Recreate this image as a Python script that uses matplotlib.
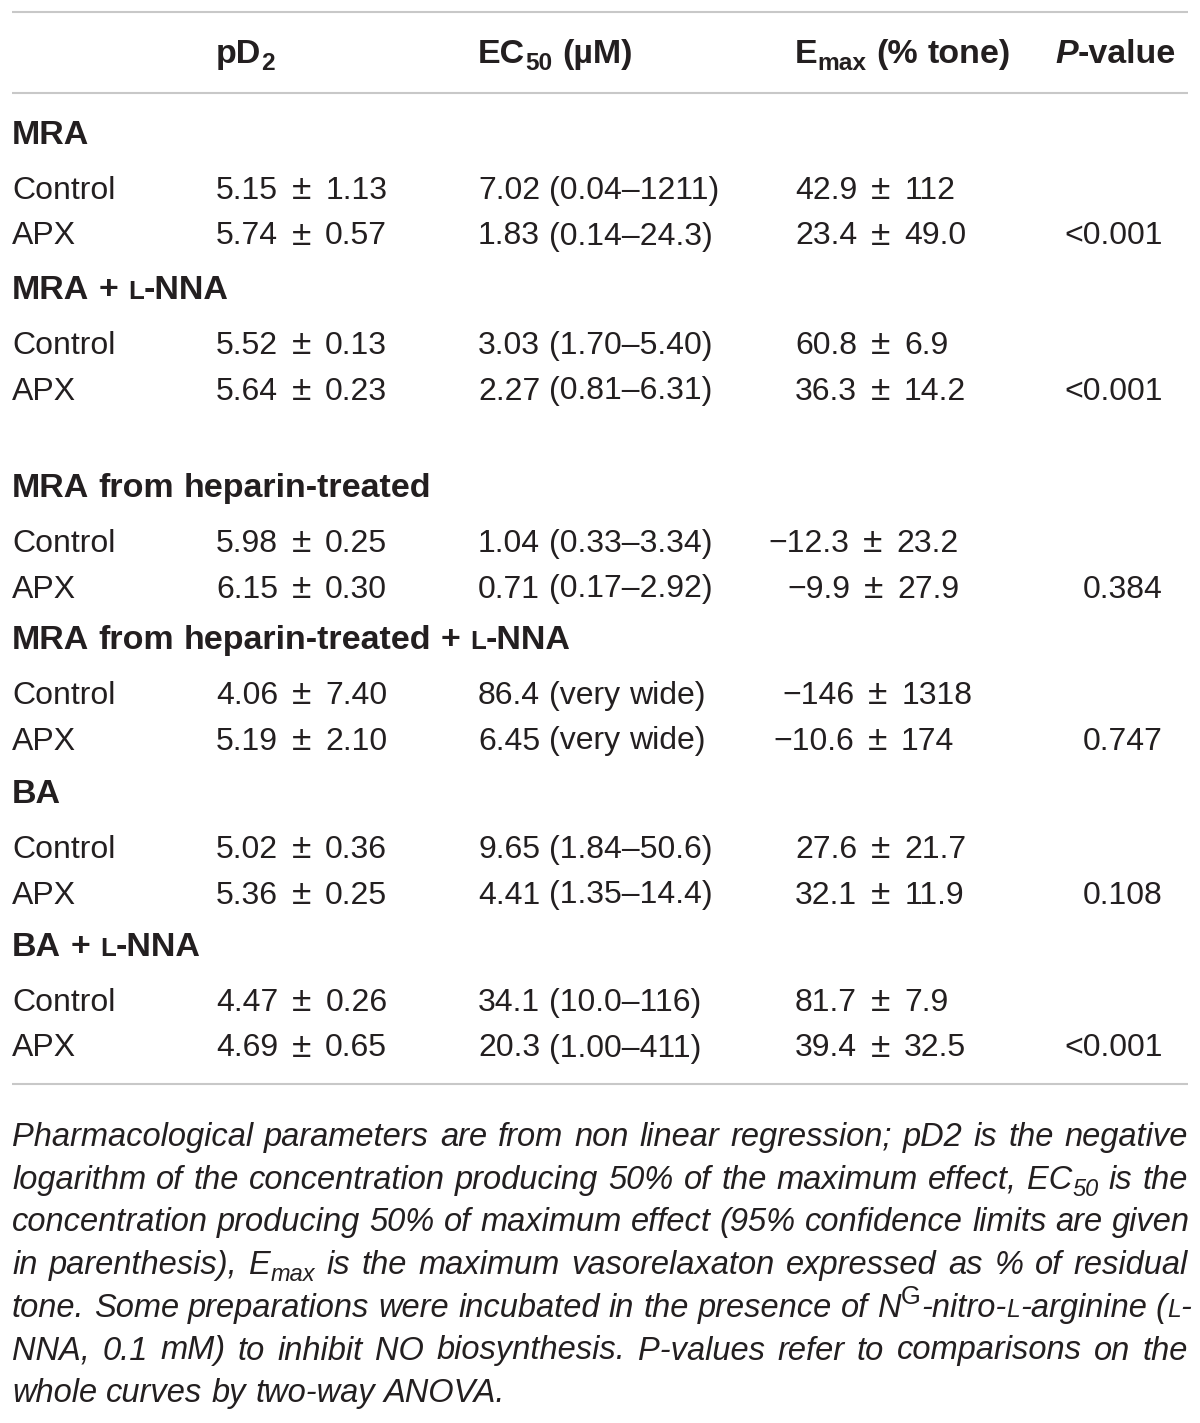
import re
import matplotlib
matplotlib.use('Agg')
import matplotlib.pyplot as plt

# ---------------- data ----------------
headers = ["pD_{2}", "EC_{50} (µM)", "E_{max} (% tone)", "*{P}-value"]
groups = ["MRA", "MRA + ~{L}-NNA", "MRA from heparin-treated",
          "MRA from heparin-treated + ~{L}-NNA", "BA", "BA + ~{L}-NNA"]
row_labels = ["Control", "APX"]
pd2 = ["5.15 ± 1.13", "5.74 ± 0.57",
       "5.52 ± 0.13", "5.64 ± 0.23",
       "5.98 ± 0.25", "6.15 ± 0.30",
       "4.06 ± 7.40", "5.19 ± 2.10",
       "5.02 ± 0.36", "5.36 ± 0.25",
       "4.47 ± 0.26", "4.69 ± 0.65"]
ec50 = ["7.02 (0.04–1211)", "1.83 (0.14–24.3)",
        "3.03 (1.70–5.40)", "2.27 (0.81–6.31)",
        "1.04 (0.33–3.34)", "0.71 (0.17–2.92)",
        "86.4 (very wide)", "6.45 (very wide)",
        "9.65 (1.84–50.6)", "4.41 (1.35–14.4)",
        "34.1 (10.0–116)", "20.3 (1.00–411)"]
emax = ["42.9 ± 112", "23.4 ± 49.0",
        "60.8 ± 6.9", "36.3 ± 14.2",
        "−12.3 ± 23.2", "−9.9 ± 27.9",
        "−146 ± 1318", "−10.6 ± 174",
        "27.6 ± 21.7", "32.1 ± 11.9",
        "81.7 ± 7.9", "39.4 ± 32.5"]
pvalues = ["<0.001", "<0.001", "0.384", "0.747", "0.108", "<0.001"]
footnote = [
    "Pharmacological parameters are from non linear regression; pD2 is the negative",
    "logarithm of the concentration producing 50% of the maximum effect, EC_{50} is the",
    "concentration producing 50% of maximum effect (95% confidence limits are given",
    "in parenthesis), E_{max} is the maximum vasorelaxaton expressed as % of residual",
    "tone. Some preparations were incubated in the presence of N^{G}-nitro-~{L}-arginine (~{L}-",
    "NNA, 0.1 mM) to inhibit NO biosynthesis. P-values refer to comparisons on the",
    "whole curves by two-way ANOVA.",
]

# ---------------- layout / style ----------------
FAM = ['Liberation Sans', 'DejaVu Sans']
TXT = '#231f20'
RULE = '#c8c8c8'
SIZE = 23
BSIZE = 24.5
FSIZE = 23.5
PM_SCALE = 1.1
PM_PAD = 5
col_x = [216, 478, 795, 1055]
emax_x = [795, 795, 795, 795, 768, 787, 782, 773, 795, 795, 795, 795]
pval_right = 1163
header_y = 63
group_y = [144, 299, 497, 649, 803, 956]
row_gap = 45.5
first_row_off = 55
rules_y = [12, 93, 1084]
foot_y0 = 1146
foot_dy = 42.7

fig = plt.figure(figsize=(12, 14.23), dpi=100)
ax = fig.add_axes([0, 0, 1, 1])
ax.set_xlim(0, 1200)
ax.set_ylim(1423, 0)
ax.axis('off')
R = fig.canvas.get_renderer()

KINDS = {'_': 'sub', '^': 'sup', '~': 'sc', '*': 'it'}


def parse(s):
    out, pos = [], 0
    for m in re.finditer(r'([_^~*])\{([^}]*)\}', s):
        if m.start() > pos:
            out.append((s[pos:m.start()], 'n'))
        out.append((m.group(2), KINDS[m.group(1)]))
        pos = m.end()
    if pos < len(s):
        out.append((s[pos:], 'n'))
    return out


def props(kind, size, weight, style):
    em = size * 100 / 72
    if kind == 'sub':
        return dict(fontsize=size * 0.72, fontweight=weight, fontstyle=style), em * 0.22
    if kind == 'sup':
        return dict(fontsize=size * 0.78, fontweight=weight, fontstyle='normal'), -em * 0.40
    if kind == 'sc':
        return dict(fontsize=size * 0.76, fontweight=weight, fontstyle=style), 0
    if kind == 'it':
        return dict(fontsize=size, fontweight=weight, fontstyle='italic'), 0
    return dict(fontsize=size, fontweight=weight, fontstyle=style), 0


_cache = {}


def adv(text, p):
    key = (text, tuple(sorted(p.items())))
    if key in _cache:
        return _cache[key]
    t1 = ax.text(0, 0, '|' + text + '|', family=FAM, **p)
    w1 = t1.get_window_extent(R).width
    t1.remove()
    t2 = ax.text(0, 0, '||', family=FAM, **p)
    w2 = t2.get_window_extent(R).width
    t2.remove()
    _cache[key] = w1 - w2
    return w1 - w2


def draw(x, y, s, size=SIZE, weight='normal', style='normal', ha='left', justify=None):
    toks = []
    for text, kind in parse(s):
        for piece in re.split(r'( )', text):
            if piece:
                p, dy = props(kind, size, weight, style)
                pad = 0
                if piece == '±':
                    p = dict(p, fontsize=p['fontsize'] * PM_SCALE)
                    pad = PM_PAD
                    dy += size * 100 / 72 * 0.015
                w = adv(piece, p)
                toks.append((piece, p, dy, w, pad))
    total = sum(t[3] + 2 * t[4] for t in toks)
    extra = 0
    if justify is not None:
        nsp = sum(1 for t in toks if t[0] == ' ')
        if nsp:
            extra = max(0, (justify - total) / nsp)
        total = justify
    if ha == 'right':
        x -= total
    elif ha == 'center':
        x -= total / 2
    for piece, p, dy, w, pad in toks:
        if piece == ' ':
            x += w + extra
            continue
        x += pad
        ax.text(x, y + dy, piece, ha='left', va='baseline', color=TXT, family=FAM, **p)
        x += w + pad


# rules
for yy in rules_y:
    ax.plot([12, 1188], [yy, yy], color=RULE, lw=1.5, solid_capstyle='butt')

# header
for hx, h in zip(col_x, headers):
    draw(hx, header_y, h, size=BSIZE, weight='bold')

# body
for g, (gname, gy) in enumerate(zip(groups, group_y)):
    draw(12, gy, gname, size=BSIZE, weight='bold')
    for k, lab in enumerate(row_labels):
        i = 2 * g + k
        ry = gy + first_row_off + k * row_gap
        draw(12, ry, lab)
        draw(col_x[0], ry, pd2[i])
        draw(col_x[1], ry, ec50[i])
        draw(emax_x[i], ry, emax[i])
        if k == 1:
            draw(pval_right, ry, pvalues[g], ha='right')

# footnote
for j, line in enumerate(footnote):
    yy = foot_y0 + j * foot_dy
    just = 1176 if j < len(footnote) - 1 else None
    draw(12, yy, line, size=FSIZE, style='italic', justify=just)

fig.savefig('out.png', dpi=100)
